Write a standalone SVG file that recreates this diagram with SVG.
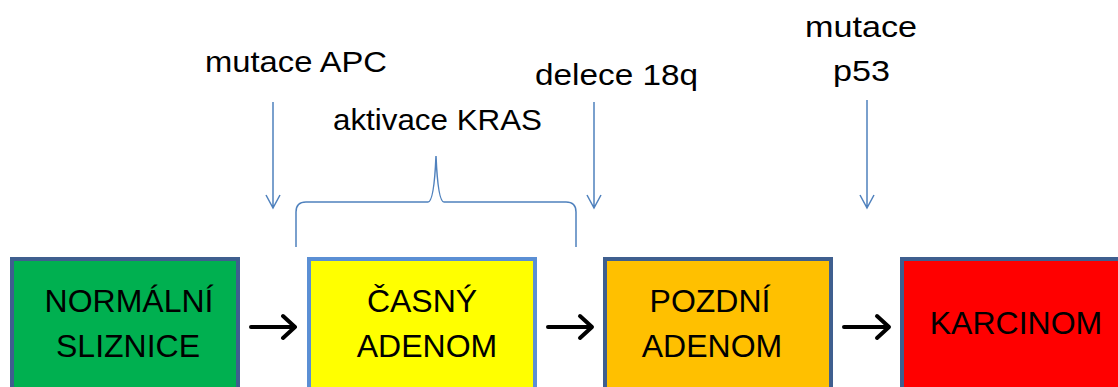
<svg xmlns="http://www.w3.org/2000/svg" width="1118" height="387" viewBox="0 0 1118 387">
<style>
.box{stroke-width:4}
.lbl{font-family:"Liberation Sans",Arial,sans-serif;font-size:32px;fill:#000;text-anchor:middle}
.top{font-family:"Liberation Sans",Arial,sans-serif;font-size:29px;fill:#000}
.thin{stroke:#4F81BD;stroke-width:1.5;fill:none}
.blk{stroke:#000;stroke-width:4;fill:none;stroke-linecap:round;stroke-linejoin:round}
</style>
<rect width="1118" height="387" fill="#fff"/>
<g id="normalni">
<rect class="box" x="12" y="259" width="226" height="140" fill="#00B050" stroke="#3F5F8F"/>
<text class="lbl" x="129" y="312">NORMÁLNÍ</text>
<text class="lbl" x="128" y="357">SLIZNICE</text>
</g>
<g id="casny">
<rect class="box" x="309" y="259" width="226" height="140" fill="#FFFF00" stroke="#5B8FD4"/>
<text class="lbl" x="422" y="312">ČASNÝ</text>
<text class="lbl" x="427" y="357">ADENOM</text>
</g>
<g id="pozdni">
<rect class="box" x="605" y="259" width="226" height="140" fill="#FFC000" stroke="#3F5F8F"/>
<text class="lbl" x="710" y="312">POZDNÍ</text>
<text class="lbl" x="712" y="357">ADENOM</text>
</g>
<g id="karcinom">
<rect class="box" x="902" y="259" width="226" height="140" fill="#FF0000" stroke="#3F5F8F"/>
<text class="lbl" x="1016" y="334">KARCINOM</text>
</g>
<g id="labels">
<text class="top" x="205" y="72" textLength="182" lengthAdjust="spacingAndGlyphs">mutace APC</text>
<text class="top" x="333" y="130" textLength="209" lengthAdjust="spacingAndGlyphs">aktivace KRAS</text>
<text class="top" x="535" y="85" textLength="163" lengthAdjust="spacingAndGlyphs">delece 18q</text>
<text class="top" x="805" y="37" textLength="112" lengthAdjust="spacingAndGlyphs">mutace</text>
<text class="top" x="833" y="81" textLength="57" lengthAdjust="spacingAndGlyphs">p53</text>
</g>
<g id="connectors">
<path class="thin" d="M273 102V208M266 195L273 208L280 195"/>
<path class="thin" d="M594 102V208M587 195L594 208L601 195"/>
<path class="thin" d="M867 100V208M860 195L867 208L874 195"/>
<path class="thin" d="M296 247V212Q296 202 306 202H428Q434 202 436 156Q438 202 444 202H566Q576 202 576 212V247"/>
<path class="blk" d="M251 327H294M283 316L295 327L283 338"/>
<path class="blk" d="M548 327H591M580 316L592 327L580 338"/>
<path class="blk" d="M844 327H888M877 316L889 327L877 338"/>
</g>
</svg>
